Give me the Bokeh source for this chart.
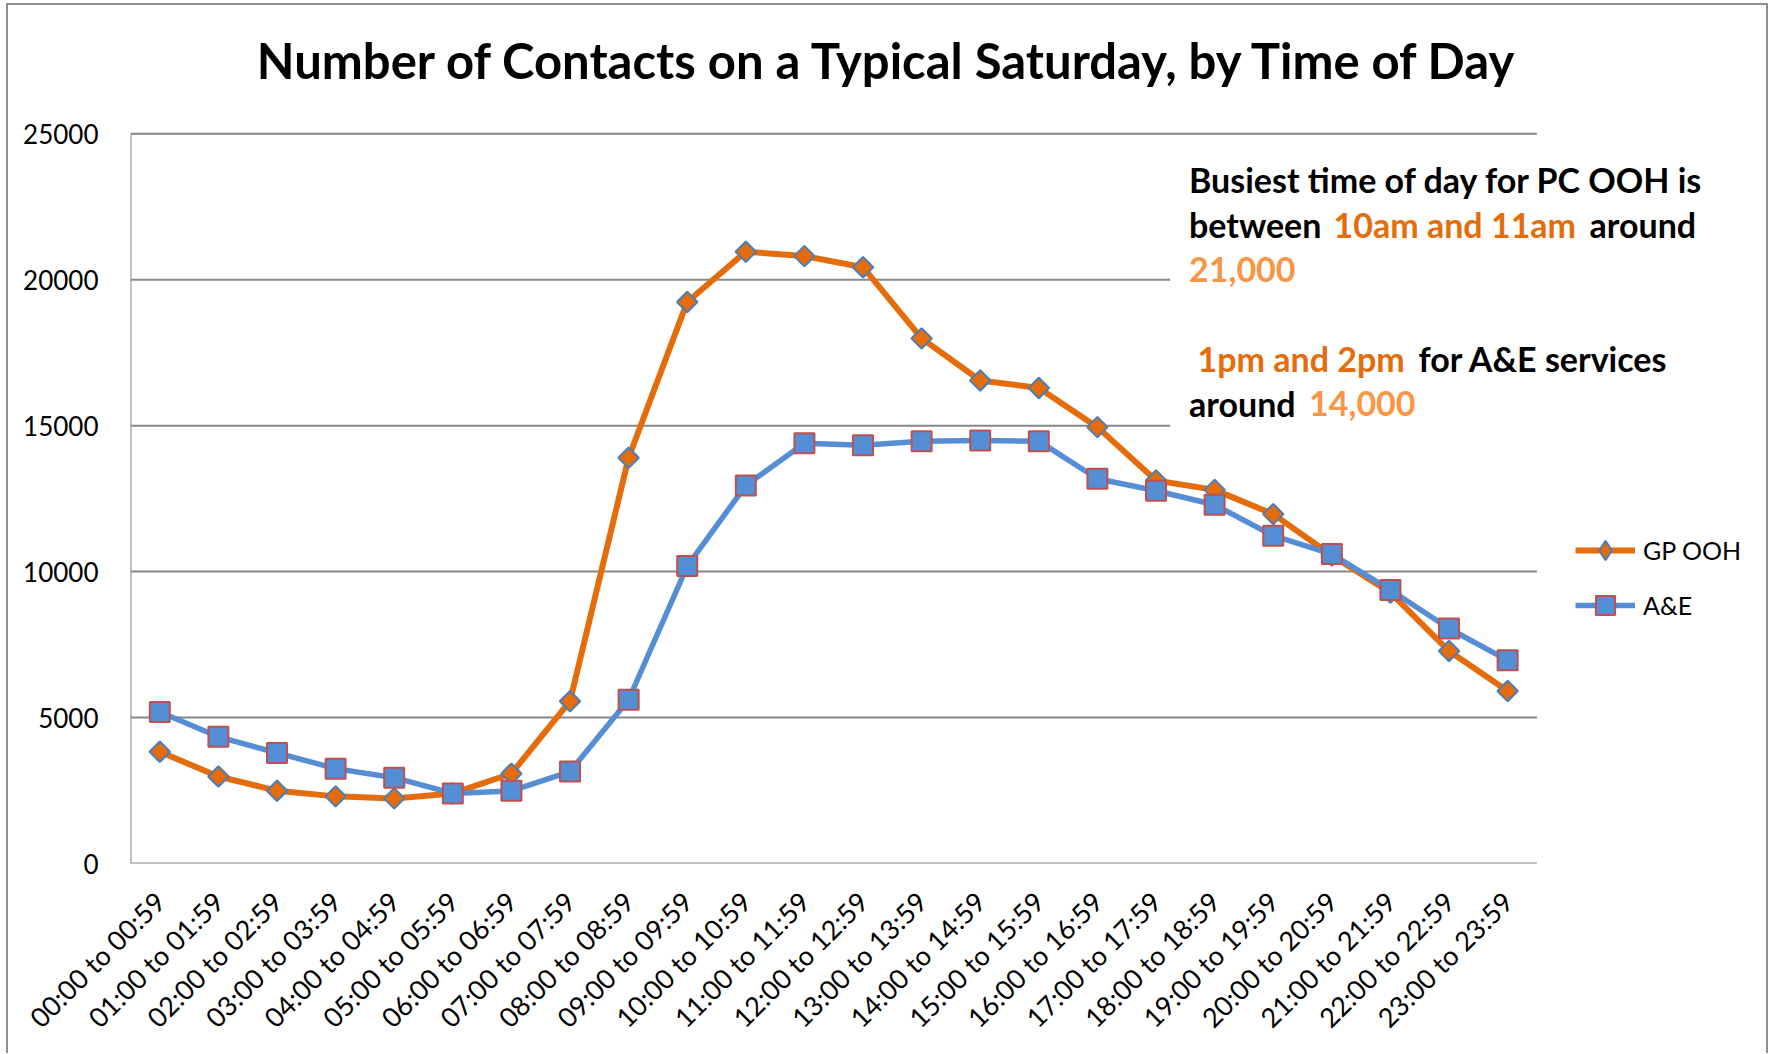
import math
from bokeh.plotting import figure
from bokeh.models import (Range1d, FixedTicker, Label, BoxAnnotation, Legend, LegendItem)
from bokeh.embed import file_html
from bokeh.resources import INLINE

# ---------------- data ----------------
hours = ["00:00 to 00:59", "01:00 to 01:59", "02:00 to 02:59", "03:00 to 03:59",
         "04:00 to 04:59", "05:00 to 05:59", "06:00 to 06:59", "07:00 to 07:59",
         "08:00 to 08:59", "09:00 to 09:59", "10:00 to 10:59", "11:00 to 11:59",
         "12:00 to 12:59", "13:00 to 13:59", "14:00 to 14:59", "15:00 to 15:59",
         "16:00 to 16:59", "17:00 to 17:59", "18:00 to 18:59", "19:00 to 19:59",
         "20:00 to 20:59", "21:00 to 21:59", "22:00 to 22:59", "23:00 to 23:59"]
gp_ooh = [3830, 2980, 2490, 2300, 2230, 2400, 3080, 5560, 13900, 19240, 20960, 20810,
          20430, 17990, 16550, 16290, 14950, 13120, 12800, 11970, 10550, 9280, 7280, 5910]
a_and_e = [5190, 4340, 3790, 3250, 2940, 2400, 2490, 3150, 5610, 10190, 12950, 14400,
           14330, 14470, 14490, 14470, 13180, 12770, 12290, 11230, 10600, 9370, 8050, 6960]
y_ticks = [0, 5000, 10000, 15000, 20000, 25000]
y_tick_labels = ["0", "5000", "10000", "15000", "20000", "25000"]
series_names = ["GP OOH", "A&E"]
title_text = "Number of Contacts on a Typical Saturday, by Time of Day"

ORANGE = "#E46C0A"
LIGHT_ORANGE = "#F79646"
BLUE = "#558ED5"
BLUE_EDGE = "#4A7EBB"
RED_EDGE = "#C0504D"
GRID = "#878787"
FONT = "Lato"

# ---------------- layout (page pixels) ----------------
N = len(hours)
FRAME_L, FRAME_B = 130.0, 862.0          # plot area left / bottom
AXIS_R, AXIS_T = 1533.0, 134.0           # right end of axis, y of top tick
CONTENT_R, CONTENT_T = 1766.0, 6.0       # inner edge of the figure
px_per_cat = (AXIS_R - FRAME_L) / N
px_per_val = (FRAME_B - AXIS_T) / y_ticks[-1]
x_end = N + (CONTENT_R - AXIS_R) / px_per_cat
y_end = y_ticks[-1] + (AXIS_T - CONTENT_T) / px_per_val

xs = [i + 0.5 for i in range(N)]

p = figure(x_range=Range1d(0, x_end), y_range=Range1d(0, y_end),
           width=1762, height=1050,
           min_border_left=int(FRAME_L - 8), min_border_right=0,
           min_border_top=0, min_border_bottom=int(1054 - FRAME_B),
           output_backend="svg", toolbar_location=None)
p.styles = {"border-top": "2px solid #8e8e8e", "border-left": "2px solid #8e8e8e",
            "border-right": "2px solid #8e8e8e", "margin-left": "6px", "margin-top": "3px"}
p.outline_line_color = None
p.background_fill_color = "white"
p.border_fill_color = "white"
p.xgrid.grid_line_color = None
p.ygrid.grid_line_color = None

# y axis
p.yaxis.ticker = FixedTicker(ticks=y_ticks)
p.yaxis.major_label_overrides = {t: l for t, l in zip(y_ticks, y_tick_labels)}
p.yaxis.major_tick_line_color = None
p.yaxis.minor_tick_line_color = None
p.yaxis.axis_line_color = None
p.yaxis.major_label_text_font = FONT
p.yaxis.major_label_text_font_size = "26px"
p.yaxis.major_label_text_color = "black"
p.yaxis.major_label_standoff = 26

# x axis
p.xaxis.ticker = FixedTicker(ticks=xs)
p.xaxis.major_label_overrides = {x: h for x, h in zip(xs, hours)}
p.xaxis.major_tick_line_color = None
p.xaxis.minor_tick_line_color = None
p.xaxis.axis_line_color = None
p.xaxis.major_label_orientation = math.pi / 4
p.xaxis.major_label_text_font = FONT
p.xaxis.major_label_text_font_size = "27px"
p.xaxis.major_label_text_color = "black"
p.xaxis.major_label_standoff = 27

# gridlines and axis lines (limited to the category span)
p.segment(x0=[0] * len(y_ticks), x1=[N] * len(y_ticks), y0=y_ticks, y1=y_ticks,
          line_color=GRID, line_width=2)
p.segment(x0=[0], x1=[0], y0=[y_ticks[0]], y1=[y_ticks[-1]], line_color=GRID, line_width=2)

# white text box over the gridlines
p.add_layout(BoxAnnotation(left=17.74, right=N + 1, bottom=14400, top=24800,
                           fill_color="white", fill_alpha=1.0, line_alpha=0))

# series
l1 = p.line(xs, gp_ooh, line_color=ORANGE, line_width=6, line_join="round")
m1 = p.scatter(xs, gp_ooh, marker="square", angle=math.pi / 4, size=14.5,
               fill_color=ORANGE, line_color=BLUE_EDGE, line_width=2)
# diamond version used only for the legend swatch
m1_leg = p.scatter(xs, gp_ooh, marker="diamond", size=22, visible=False,
                   fill_color=ORANGE, line_color=BLUE_EDGE, line_width=2)
l2 = p.line(xs, a_and_e, line_color=BLUE, line_width=5.5, line_join="round")
m2 = p.scatter(xs, a_and_e, marker="square", size=20,
               fill_color=BLUE, line_color=RED_EDGE, line_width=2)

legend = Legend(items=[LegendItem(label=series_names[0], renderers=[l1, m1_leg]),
                       LegendItem(label=series_names[1], renderers=[l2, m2])],
                location=(int(1575 - FRAME_L), int(FRAME_B - 628)), margin=0, padding=0,
                spacing=7, glyph_width=60, glyph_height=48, label_standoff=8,
                label_text_font=FONT, label_text_font_size="25px",
                label_text_color="black", border_line_alpha=0,
                background_fill_alpha=0)
p.add_layout(legend)

SHIFT = 0.44  # baseline correction, fraction of font size


def lbl(text, X, Y, color="black", size=34, align="left"):
    p.add_layout(Label(text=text, x=X - FRAME_L, y=FRAME_B - Y + SHIFT * size,
                       x_units="screen", y_units="screen",
                       text_font=FONT, text_font_size=f"{size}px", text_font_style="bold",
                       text_color=color, text_align=align, text_baseline="alphabetic"))


lbl(title_text, 888.6, 80, size=49, align="center")
lbl("Busiest time of day for PC OOH is", 1188.5, 193.3)
lbl("between", 1188.5, 237.7)
lbl("10am and 11am", 1333, 237.7, color=ORANGE)
lbl("around", 1589, 237.7)
lbl("21,000", 1188.5, 282.7, color=LIGHT_ORANGE)
lbl("1pm and 2pm", 1197, 372.3, color=ORANGE)
lbl("for A&E services", 1418, 372.3)
lbl("around", 1188.5, 416.7)
lbl("14,000", 1308.5, 416.7, color=LIGHT_ORANGE)

open("out.html", "w").write(file_html(p, INLINE))
